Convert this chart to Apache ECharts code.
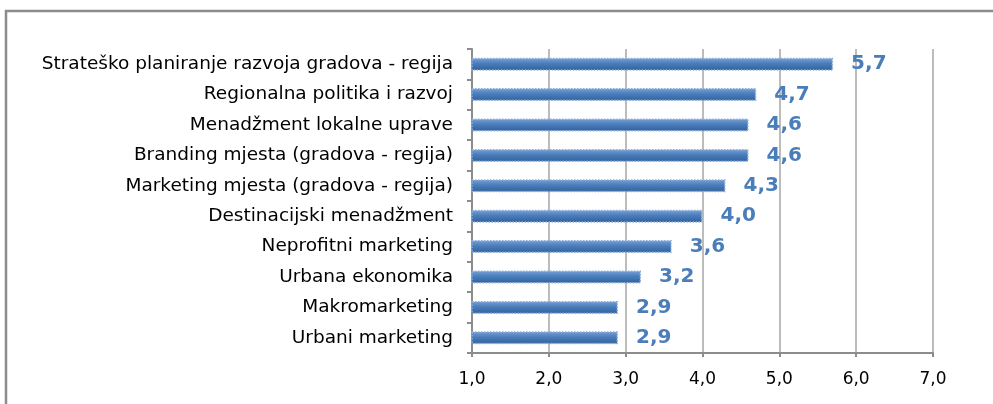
<!DOCTYPE html>
<html>
<head>
<meta charset="utf-8">
<script src="https://cdn.jsdelivr.net/npm/echarts@6/dist/echarts.min.js"></script>
<style>
  html, body { margin: 0; padding: 0; background: #fff; }
  #main { width: 993px; height: 404px; }
</style>
</head>
<body>
<div id="main"></div>
<script>
var categories = [
  'Strateško planiranje razvoja gradova - regija',
  'Regionalna politika i razvoj',
  'Menadžment lokalne uprave',
  'Branding mjesta (gradova - regija)',
  'Marketing mjesta (gradova - regija)',
  'Destinacijski menadžment',
  'Neprofitni marketing',
  'Urbana ekonomika',
  'Makromarketing',
  'Urbani marketing'
];
var values = [5.7, 4.7, 4.6, 4.6, 4.3, 4.0, 3.6, 3.2, 2.9, 2.9];
var axisMin = 1;
var axisMax = 7;

var chart = echarts.init(document.getElementById('main'));

function comma(v) {
  return Number(v).toFixed(1).replace('.', ',');
}

var option = {
  animation: false,
  textStyle: { fontFamily: 'DejaVu Sans' },
  graphic: [
    {
      type: 'rect',
      shape: { x: 6, y: 11, width: 1200, height: 600 },
      style: { fill: 'none', stroke: '#8c8c8c', lineWidth: 2.5 },
      silent: true
    }
  ],
  grid: { left: 472, right: 60, top: 49, bottom: 51 },
  xAxis: {
    type: 'value',
    min: axisMin,
    max: axisMax,
    interval: 1,
    axisLine: { show: true, lineStyle: { color: '#8c8c8c', width: 2 } },
    axisTick: { show: true, length: 4, lineStyle: { color: '#8c8c8c', width: 2 } },
    axisLabel: {
      color: '#000',
      fontSize: 17,
      margin: 18,
      formatter: function (v) { return comma(v); }
    },
    splitLine: { show: true, lineStyle: { color: '#a6a6a6', width: 1.5 } }
  },
  yAxis: {
    type: 'category',
    data: categories,
    inverse: true,
    axisLine: { show: true, lineStyle: { color: '#8c8c8c', width: 2 } },
    axisTick: { show: true, length: 5, lineStyle: { color: '#8c8c8c', width: 2 } },
    axisLabel: { color: '#000', fontSize: 18.5, margin: 19 }
  },
  series: [
    {
      type: 'bar',
      data: values,
      barWidth: 13,
      clip: true,
      itemStyle: {
        color: {
          type: 'linear', x: 0, y: 0, x2: 0, y2: 1,
          colorStops: [
            { offset: 0, color: '#7aa3d6' },
            { offset: 0.45, color: '#4a7dbb' },
            { offset: 1, color: '#30609a' }
          ]
        },
        borderColor: '#8fb0dc',
        borderWidth: 1.5,
        borderType: 'dotted'
      },
      label: {
        show: true,
        position: 'right',
        distance: 18,
        color: '#4a7ebb',
        fontSize: 20,
        fontWeight: 'bold',
        formatter: function (p) { return comma(p.value); }
      }
    }
  ]
};

chart.setOption(option);
</script>
</body>
</html>
